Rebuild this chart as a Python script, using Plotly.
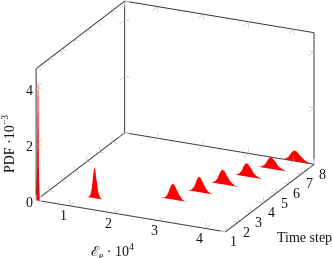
import plotly.graph_objects as go

# --- data ---
time_steps = [1, 2, 3, 4, 5, 6, 7, 8]
x_t1 = [0.275, 0.29, 0.30, 0.31, 0.32, 0.33, 0.345]
z_t1 = [0, 1.2, 3.7, 4.33, 3.7, 1.2, 0]
x_t2 = [1.10, 1.15, 1.19, 1.22, 1.25, 1.27, 1.29, 1.32, 1.35, 1.38, 1.42, 1.46]
z_t2 = [0, .02, .11, .38, .87, 1.08, 1.03, .67, .32, .11, .02, 0]
x_t3 = [2.42, 2.50, 2.56, 2.61, 2.66, 2.71, 2.76, 2.81, 2.87, 2.92, 2.97, 3.02]
z_t3 = [0, .01, .05, .16, .40, .56, .52, .36, .19, .08, .02, 0]
x_t4 = [2.76, 2.82, 2.87, 2.92, 2.97, 3.01, 3.06, 3.11, 3.17, 3.22, 3.28, 3.34]
z_t4 = [0, .02, .07, .19, .42, .55, .51, .35, .18, .08, .02, 0]
x_t5 = [2.99, 3.05, 3.10, 3.15, 3.20, 3.25, 3.30, 3.36, 3.42, 3.48, 3.54, 3.61]
z_t5 = [0, .02, .07, .18, .39, .52, .49, .33, .17, .08, .02, 0]
x_t6 = [3.24, 3.30, 3.35, 3.40, 3.45, 3.50, 3.55, 3.61, 3.67, 3.74, 3.81, 3.88]
z_t6 = [0, .02, .07, .17, .36, .48, .44, .31, .16, .07, .02, 0]
x_t7 = [3.44, 3.52, 3.58, 3.64, 3.70, 3.75, 3.81, 3.87, 3.93, 4.00, 4.07, 4.15]
z_t7 = [0, .01, .05, .13, .30, .41, .38, .27, .14, .07, .02, 0]
x_t8 = [3.67, 3.75, 3.82, 3.88, 3.94, 4.00, 4.06, 4.12, 4.19, 4.26, 4.34, 4.42]
z_t8 = [0, .01, .04, .12, .28, .38, .35, .25, .14, .06, .02, 0]
x_series = [x_t1, x_t2, x_t3, x_t4, x_t5, x_t6, x_t7, x_t8]
z_series = [z_t1, z_t2, z_t3, z_t4, z_t5, z_t6, z_t7, z_t8]
x_ticks = [1, 2, 3, 4]
t_ticks = [1, 2, 3, 4, 5, 6, 7, 8]
z_ticks = [0, 2, 4]
x_range = [0.27, 4.44]
t_range = [1, 8]
z_range = [0, 4.67]

FONT = "Liberation Serif"
TXT = dict(family=FONT, size=14, color="#111111")
fig = go.Figure()

for t, xs, zs in zip(time_steps, x_series, z_series):
    n = len(xs)
    fig.add_trace(go.Mesh3d(
        x=xs + xs, y=[t] * (2 * n), z=zs + [0] * n,
        i=[v for a in range(n - 1) for v in (a, a + 1)],
        j=[v for a in range(n - 1) for v in (a + 1, a + n)],
        k=[v for a in range(n - 1) for v in (a + n, a + n + 1)],
        color="#ff0000", flatshading=True, hoverinfo="skip", showscale=False,
        lighting=dict(ambient=1, diffuse=0, specular=0, fresnel=0, roughness=1),
    ))

x0, x1 = x_range
t0, t1 = t_range
z0, z1 = z_range
edges = [
    ((x0, t0, z0), (x1, t0, z0)), ((x1, t0, z0), (x1, t1, z0)),
    ((x0, t0, z0), (x0, t1, z0)), ((x0, t1, z0), (x1, t1, z0)),
    ((x0, t0, z0), (x0, t0, z1)), ((x0, t1, z0), (x0, t1, z1)),
    ((x1, t1, z0), (x1, t1, z1)), ((x0, t0, z1), (x0, t1, z1)),
    ((x0, t1, z1), (x1, t1, z1)),
]
ex, ey, ez = [], [], []
for a, b in edges:
    ex += [a[0], b[0], None]; ey += [a[1], b[1], None]; ez += [a[2], b[2], None]

dx, dt, dz = 0.11, 0.42, 0.2
tk = []
for v in x_ticks:
    tk += [((v, t0, z0), (v, t0 + dt, z0)), ((v, t0, z0), (v, t0, z0 + dz)),
           ((v, t1, z0), (v, t1 - dt, z0)), ((v, t1, z0), (v, t1, z0 + dz)),
           ((v, t1, z1), (v, t1 - dt, z1)), ((v, t1, z1), (v, t1, z1 - dz))]
for v in t_ticks:
    tk += [((x1, v, z0), (x1 - dx, v, z0)), ((x1, v, z0), (x1, v, z0 + dz)),
           ((x0, v, z0), (x0 + dx, v, z0)), ((x0, v, z0), (x0, v, z0 + dz)),
           ((x0, v, z1), (x0 + dx, v, z1)), ((x0, v, z1), (x0, v, z1 - dz))]
for v in z_ticks:
    tk += [((x0, t1, v), (x0 + dx, t1, v)), ((x0, t1, v), (x0, t1 - dt, v)),
           ((x1, t1, v), (x1 - dx, t1, v)), ((x1, t1, v), (x1, t1 - dt, v)),
           ((x0, t0, v), (x0 + dx, t0, v)), ((x0, t0, v), (x0, t0 + dt, v))]
kx, ky, kz = [], [], []
for a, b in tk:
    kx += [a[0], b[0], None]; ky += [a[1], b[1], None]; kz += [a[2], b[2], None]

fig.add_trace(go.Scatter3d(x=kx, y=ky, z=kz, mode="lines", hoverinfo="skip",
                           line=dict(color="#c8c8c8", width=1.5), showlegend=False))
fig.add_trace(go.Scatter3d(x=ex, y=ey, z=ez, mode="lines", hoverinfo="skip",
                           line=dict(color="#3a3a3a", width=2), showlegend=False))

ann = []
for v in x_ticks:
    ann.append(dict(x=v, y=t0, z=z0, text=str(v), showarrow=False, xshift=-6, yshift=-10, font=TXT))
for v in t_ticks:
    ann.append(dict(x=x1, y=v, z=z0, text=str(v), showarrow=False, xshift=8, yshift=-10, font=TXT))
for v in z_ticks:
    ann.append(dict(x=x0, y=t0, z=v, text=str(v), showarrow=False, xshift=-7, yshift=-2.5, font=TXT))
ann.append(dict(x=2.4, y=t0, z=z0, text="ℰ<sub>e</sub> · 10<sup>4</sup>", showarrow=False,
                xshift=-20, yshift=-35, font=TXT))
ann.append(dict(x=x1, y=3, z=z0, text="Time step", showarrow=False, xshift=54, yshift=-25, font=TXT))
ann.append(dict(x=x0, y=t0, z=2.0, text="PDF ·10<sup>−3</sup>", showarrow=False, textangle=-90,
                xshift=-28, font=TXT))

def ax(rng, ticks, pad):
    return dict(range=[rng[0] - pad, rng[1] + pad], tickvals=ticks, ticktext=[str(v) for v in ticks],
                showgrid=False, zeroline=False, showline=False, showticklabels=False, ticks="",
                showbackground=False, showspikes=False, title=dict(text=""), autorange=False)

cx, cz = -0.078, -0.1166
R = 6
fig.update_layout(
    width=332, height=258, margin=dict(l=0, r=0, t=0, b=0), showlegend=False,
    paper_bgcolor="white", font=dict(family=FONT),
    scene=dict(
        domain=dict(x=[0, 1], y=[0, 1]),
        xaxis=ax(x_range, x_ticks, 0.01), yaxis=ax(t_range, t_ticks, 0.02), zaxis=ax(z_range, z_ticks, 0.01),
        aspectmode="manual", aspectratio=dict(x=1.628, y=1.629, z=1.097),
        camera=dict(projection=dict(type="orthographic"),
                    eye=dict(x=cx + 0.396 * R, y=-0.847 * R, z=cz + 0.357 * R),
                    center=dict(x=cx, y=0, z=cz), up=dict(x=0, y=0, z=1)),
        annotations=ann,
    ),
)
fig.write_html("out.html", config=dict(displayModeBar=False),
               post_script="document.body.style.margin='0';document.body.style.overflow='hidden';")
